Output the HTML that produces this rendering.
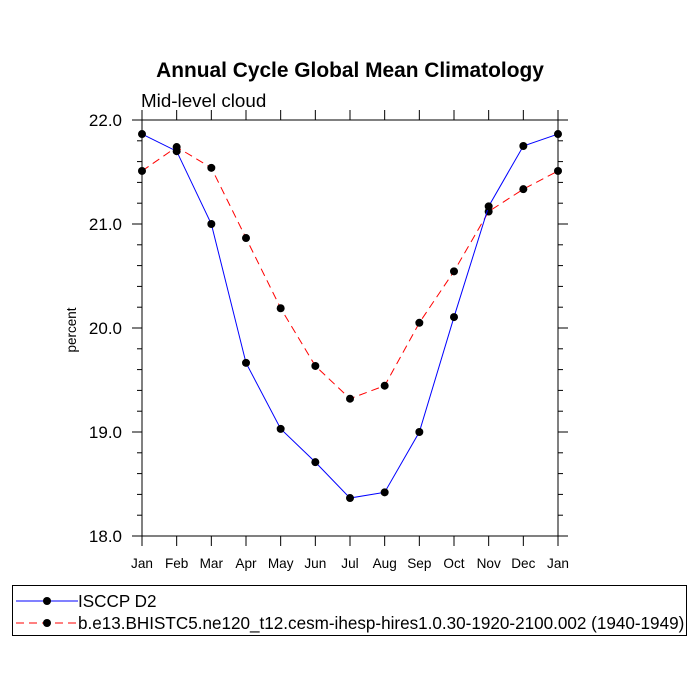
<!DOCTYPE html>
<html><head><meta charset="utf-8"><style>body{margin:0;background:#fff}svg{display:block;font-family:"Liberation Sans",sans-serif}</style></head>
<body>
<svg id="chart" width="700" height="700" viewBox="0 0 700 700">
<text x="350" y="77" text-anchor="middle" font-size="20.9" font-weight="bold">Annual Cycle Global Mean Climatology</text>
<text x="141" y="107" font-size="18.8">Mid-level cloud</text>
<text transform="translate(76,330) rotate(-90)" text-anchor="middle" font-size="13.5">percent</text>
<g id="axes"></g><g id="series"></g>
<g>
<rect x="12.5" y="585.5" width="674" height="50" fill="none" stroke="#000" stroke-width="1"/>
<line x1="16" y1="601" x2="78" y2="601" stroke="#00f" stroke-width="1"/>
<circle cx="47" cy="601" r="4" fill="#000"/>
<text x="78" y="607" font-size="17.1">ISCCP D2</text>
<line x1="16" y1="623" x2="78" y2="623" stroke="#f00" stroke-width="1" stroke-dasharray="8,5"/>
<circle cx="47" cy="623" r="4" fill="#000"/>
<text x="78" y="629" font-size="17.1">b.e13.BHISTC5.ne120_t12.cesm-ihesp-hires1.0.30-1920-2100.002 (1940-1949)</text>
</g>
</svg>
<script>
const months=["Jan","Feb","Mar","Apr","May","Jun","Jul","Aug","Sep","Oct","Nov","Dec","Jan"];
const isccp=[21.865,21.70,21.0,19.665,19.03,18.71,18.365,18.42,19.0,20.105,21.17,21.75,21.865];
const model=[21.51,21.74,21.54,20.865,20.19,19.635,19.32,19.445,20.05,20.545,21.12,21.335,21.51];
const yTicks=[18.0,19.0,20.0,21.0,22.0];
const L=142,R=558,T=120,B=536,yMin=18,yMax=22;
const NS="http://www.w3.org/2000/svg";
const xs=i=>L+(R-L)*i/(months.length-1);
const ys=v=>B-(v-yMin)/(yMax-yMin)*(B-T);
function mk(tag,a,p){const e=document.createElementNS(NS,tag);for(const k in a)e.setAttribute(k,a[k]);p.appendChild(e);return e;}
const ax=document.getElementById('axes');
const fr=mk('rect',{x:L,y:T,width:R-L,height:B-T,fill:'none',stroke:'#000','stroke-width':1},ax);


months.forEach((m,i)=>{const x=xs(i);
mk('line',{x1:x,y1:B,x2:x,y2:B+10,stroke:'#000'},ax);
mk('line',{x1:x,y1:T,x2:x,y2:T-10,stroke:'#000'},ax);
const t=mk('text',{x:x,y:568,'text-anchor':'middle','font-size':13.6},ax);t.textContent=m;

});
for(let v=yMin;v<=yMax+1e-9;v+=0.2){const y=ys(v);const maj=Math.abs(v-Math.round(v))<1e-6;const len=maj?10:5;
mk('line',{x1:L,y1:y,x2:L-len,y2:y,stroke:'#000'},ax);
mk('line',{x1:R,y1:y,x2:R+len,y2:y,stroke:'#000'},ax);}
yTicks.forEach(v=>{const t=mk('text',{x:122,y:ys(v)+6,'text-anchor':'end','font-size':17},ax);t.textContent=v.toFixed(1);

});
const sg=document.getElementById('series');
function draw(vals,col,dash,name){
const pl=mk('polyline',{points:vals.map((v,i)=>xs(i)+','+ys(v)).join(' '),fill:'none',stroke:col,'stroke-width':1,'stroke-dasharray':dash},sg);


vals.forEach((v,i)=>{const c=mk('circle',{cx:xs(i),cy:ys(v),r:4,fill:'#000'},sg);

});}
draw(model,'#f00','8,5','model');
draw(isccp,'#00f','none','isccp');
</script>
</body></html>
